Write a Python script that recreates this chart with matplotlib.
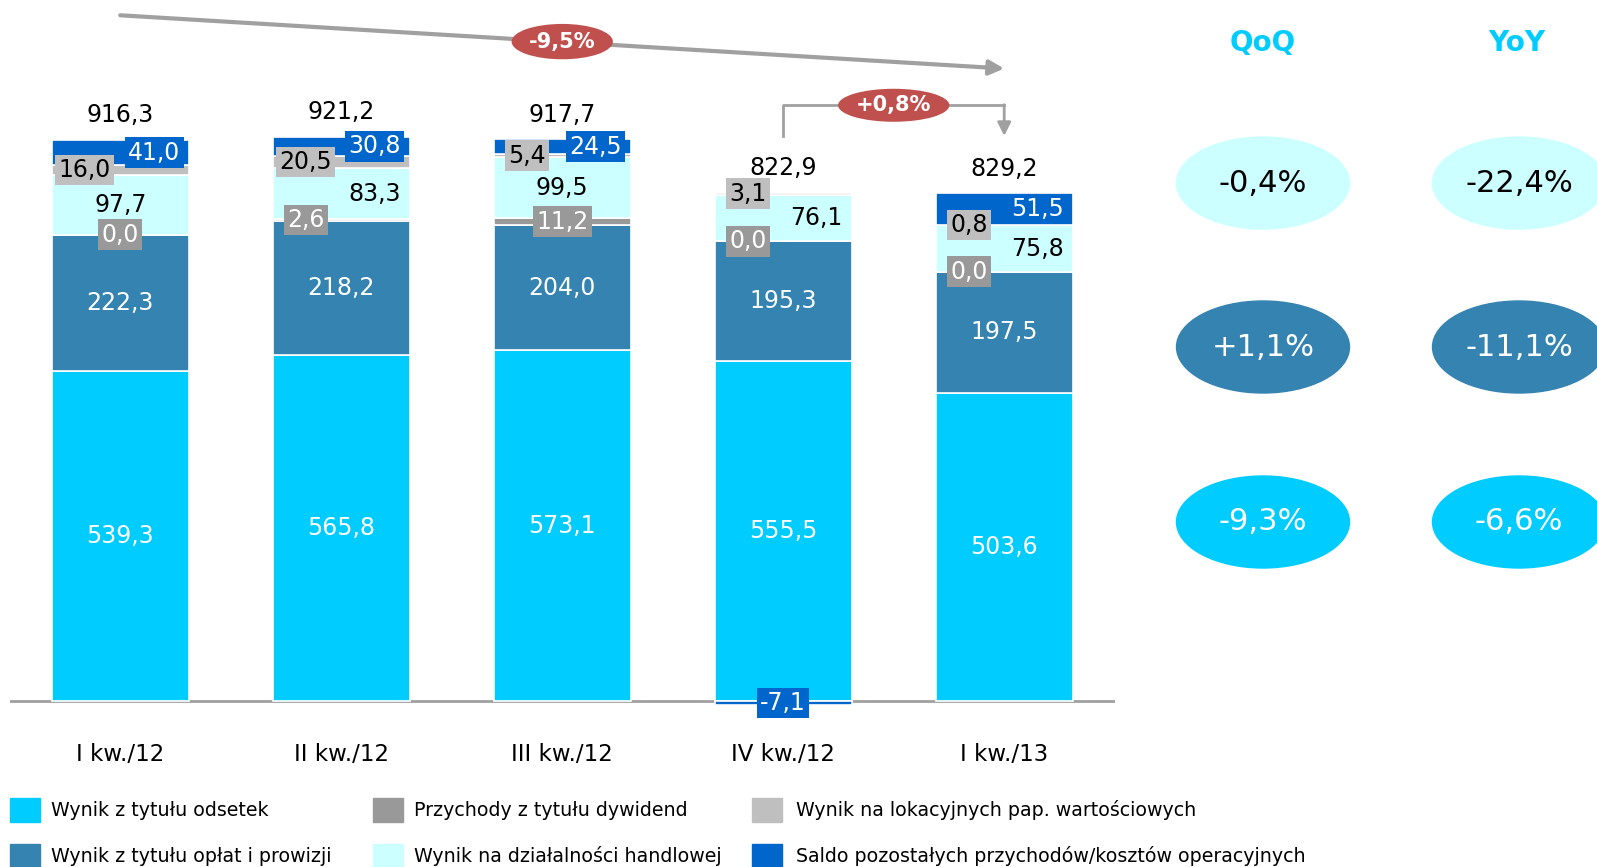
import matplotlib

matplotlib.use("Agg")
import matplotlib.pyplot as plt  # noqa: E402
import numpy as np  # noqa: E402
from matplotlib.patches import Ellipse, Rectangle  # noqa: E402

# data (mln zł)
quarters = ["I kw./12", "II kw./12", "III kw./12", "IV kw./12", "I kw./13"]
odsetki = [539.3, 565.8, 573.1, 555.5, 503.6]
prowizje = [222.3, 218.2, 204.0, 195.3, 197.5]
dywidendy = [0.0, 2.6, 11.2, 0.0, 0.0]
handel = [97.7, 83.3, 99.5, 76.1, 75.8]
lokacyjne = [16.0, 20.5, 5.4, 3.1, 0.8]
saldo = [41.0, 30.8, 24.5, -7.1, 51.5]

series_names = [
    "Wynik z tytułu odsetek",
    "Wynik z tytułu opłat i prowizji",
    "Przychody z tytułu dywidend",
    "Wynik na działalności handlowej",
    "Wynik na lokacyjnych pap. wartościowych",
    "Saldo pozostałych przychodów/kosztów operacyjnych",
]

qoq = [-0.4, 1.1, -9.3]
yoy = [-22.4, -11.1, -6.6]

C_ODS = "#00CCFF"
C_PROW = "#3483B1"
C_DYW = "#999999"
C_HAND = "#CCFFFF"
C_LOK = "#BFBFBF"
C_SALDO = "#0066CC"
C_RED = "#C0504D"
C_ARROW = "#A0A0A0"

W, H = 1597, 867


def fmt(v, sign=False):
    s = f"{v:+.1f}" if sign else f"{v:.1f}"
    return s.replace(".", ",")


series = [odsetki, prowizje, dywidendy, handel, lokacyjne, saldo]
colors = [C_ODS, C_PROW, C_DYW, C_HAND, C_LOK, C_SALDO]
# label style per series: text colour, box colour, x shift per bar
label_style = [
    ("white", None, [0, 0, 0, 0, 0]),
    ("white", None, [0, 0, 0, 0, 0]),
    ("white", C_DYW, [0, -0.16, 0, -0.16, -0.16]),
    ("black", None, [0, 0.15, 0, 0.15, 0.15]),
    ("black", C_LOK, [-0.16, -0.16, -0.16, -0.16, -0.16]),
    ("white", C_SALDO, [0.155, 0.15, 0.15, 0, 0.15]),
]

fig = plt.figure(figsize=(W / 100, H / 100), dpi=100)

# overlay in pixel coordinates for legend and the QoQ/YoY panel
ov = fig.add_axes([0, 0, 1, 1])
ov.set_xlim(0, W)
ov.set_ylim(H, 0)
ov.axis("off")

ax = fig.add_axes([0.0061, 0.1774, 0.6919, 0.8191])
ax.set_xlim(-0.5, 4.5)
ax.set_ylim(-20, 1140)
ax.axis("off")
ax.patch.set_alpha(0)

x = np.arange(len(quarters))
pos_bottom = np.zeros(len(quarters))
neg_bottom = np.zeros(len(quarters))
ax.axhline(0, color=C_ARROW, lw=2, zorder=1)

for vals, col, (tc, bc, shifts) in zip(series, colors, label_style):
    vals = np.array(vals)
    bottom = np.where(vals >= 0, pos_bottom, neg_bottom)
    ax.bar(x, vals, 0.62, bottom=bottom, color=col, edgecolor="white", lw=1.2, zorder=2)
    for i, v in enumerate(vals):
        bbox = None
        if bc is not None:
            bbox = dict(boxstyle="square,pad=0.14", fc=bc, ec="none")
        ax.text(x[i] + shifts[i], bottom[i] + v / 2, fmt(v), color=tc, fontsize=17,
                ha="center", va="center", bbox=bbox, zorder=5, clip_on=False)
    pos_bottom = pos_bottom + np.where(vals >= 0, vals, 0)
    neg_bottom = neg_bottom + np.where(vals < 0, vals, 0)

totals = np.sum(series, axis=0)
for i, t in enumerate(totals):
    ax.text(x[i], pos_bottom[i] + 40, fmt(t), fontsize=17, ha="center", va="center",
            color="black", zorder=5)

for i, q in enumerate(quarters):
    ax.text(x[i], -88, q, fontsize=16.5, ha="center", va="center", clip_on=False)

# long trend arrow, first to last quarter
ax.annotate("", xy=(4, 1033), xytext=(0, 1120),
            arrowprops=dict(arrowstyle="-|>", color=C_ARROW, lw=3, mutation_scale=22,
                            shrinkA=0, shrinkB=0), annotation_clip=False)
yy_change = (totals[4] / totals[0] - 1) * 100
ax.text(2, 1077, fmt(yy_change) + "%", color="white", fontsize=15, fontweight="bold",
        ha="center", va="center", zorder=6,
        bbox=dict(boxstyle="ellipse,pad=0.12", fc=C_RED, ec="none"))

# bracket arrow, last two quarters
ax.plot([3, 3, 4], [923, 973, 973], color=C_ARROW, lw=2, zorder=3)
ax.annotate("", xy=(4, 923), xytext=(4, 974),
            arrowprops=dict(arrowstyle="-|>", color=C_ARROW, lw=2, mutation_scale=20,
                            shrinkA=0, shrinkB=0), annotation_clip=False)
qq_change = (totals[4] / totals[3] - 1) * 100
ax.text(3.5, 973, fmt(qq_change, sign=True) + "%", color="white", fontsize=15,
        fontweight="bold", ha="center", va="center", zorder=6,
        bbox=dict(boxstyle="ellipse,pad=0.08", fc=C_RED, ec="none"))

# legend
sq_x = [10, 373, 752]
txt_x = [51, 414, 796]
row_y = [810, 856]
for i, (name, col) in enumerate(zip(series_names, colors)):
    c, r = i // 2, i % 2
    ov.add_patch(Rectangle((sq_x[c], row_y[r] - 12), 30, 24, color=col))
    ov.text(txt_x[c], row_y[r], name, fontsize=13.7, ha="left", va="center")

# QoQ / YoY panel
col_x = [1263, 1519]
ov.text(col_x[0], 43, "QoQ", color=C_ODS, fontsize=20, fontweight="bold", ha="center", va="center")
ov.text(col_x[1] - 2, 43, "YoY", color=C_ODS, fontsize=20, fontweight="bold", ha="center", va="center")
panel_y = [183, 347, 522]
panel_fc = [C_HAND, C_PROW, C_ODS]
panel_tc = ["black", "white", "white"]
for r in range(3):
    for cx, vals in zip(col_x, [qoq, yoy]):
        ov.add_patch(Ellipse((cx, panel_y[r]), 173, 92, color=panel_fc[r], clip_on=False))
        ov.text(cx, panel_y[r], fmt(vals[r], sign=vals[r] > 0) + "%", color=panel_tc[r],
                fontsize=22, ha="center", va="center")

fig.savefig("out.png", dpi=100)
plt.close(fig)
